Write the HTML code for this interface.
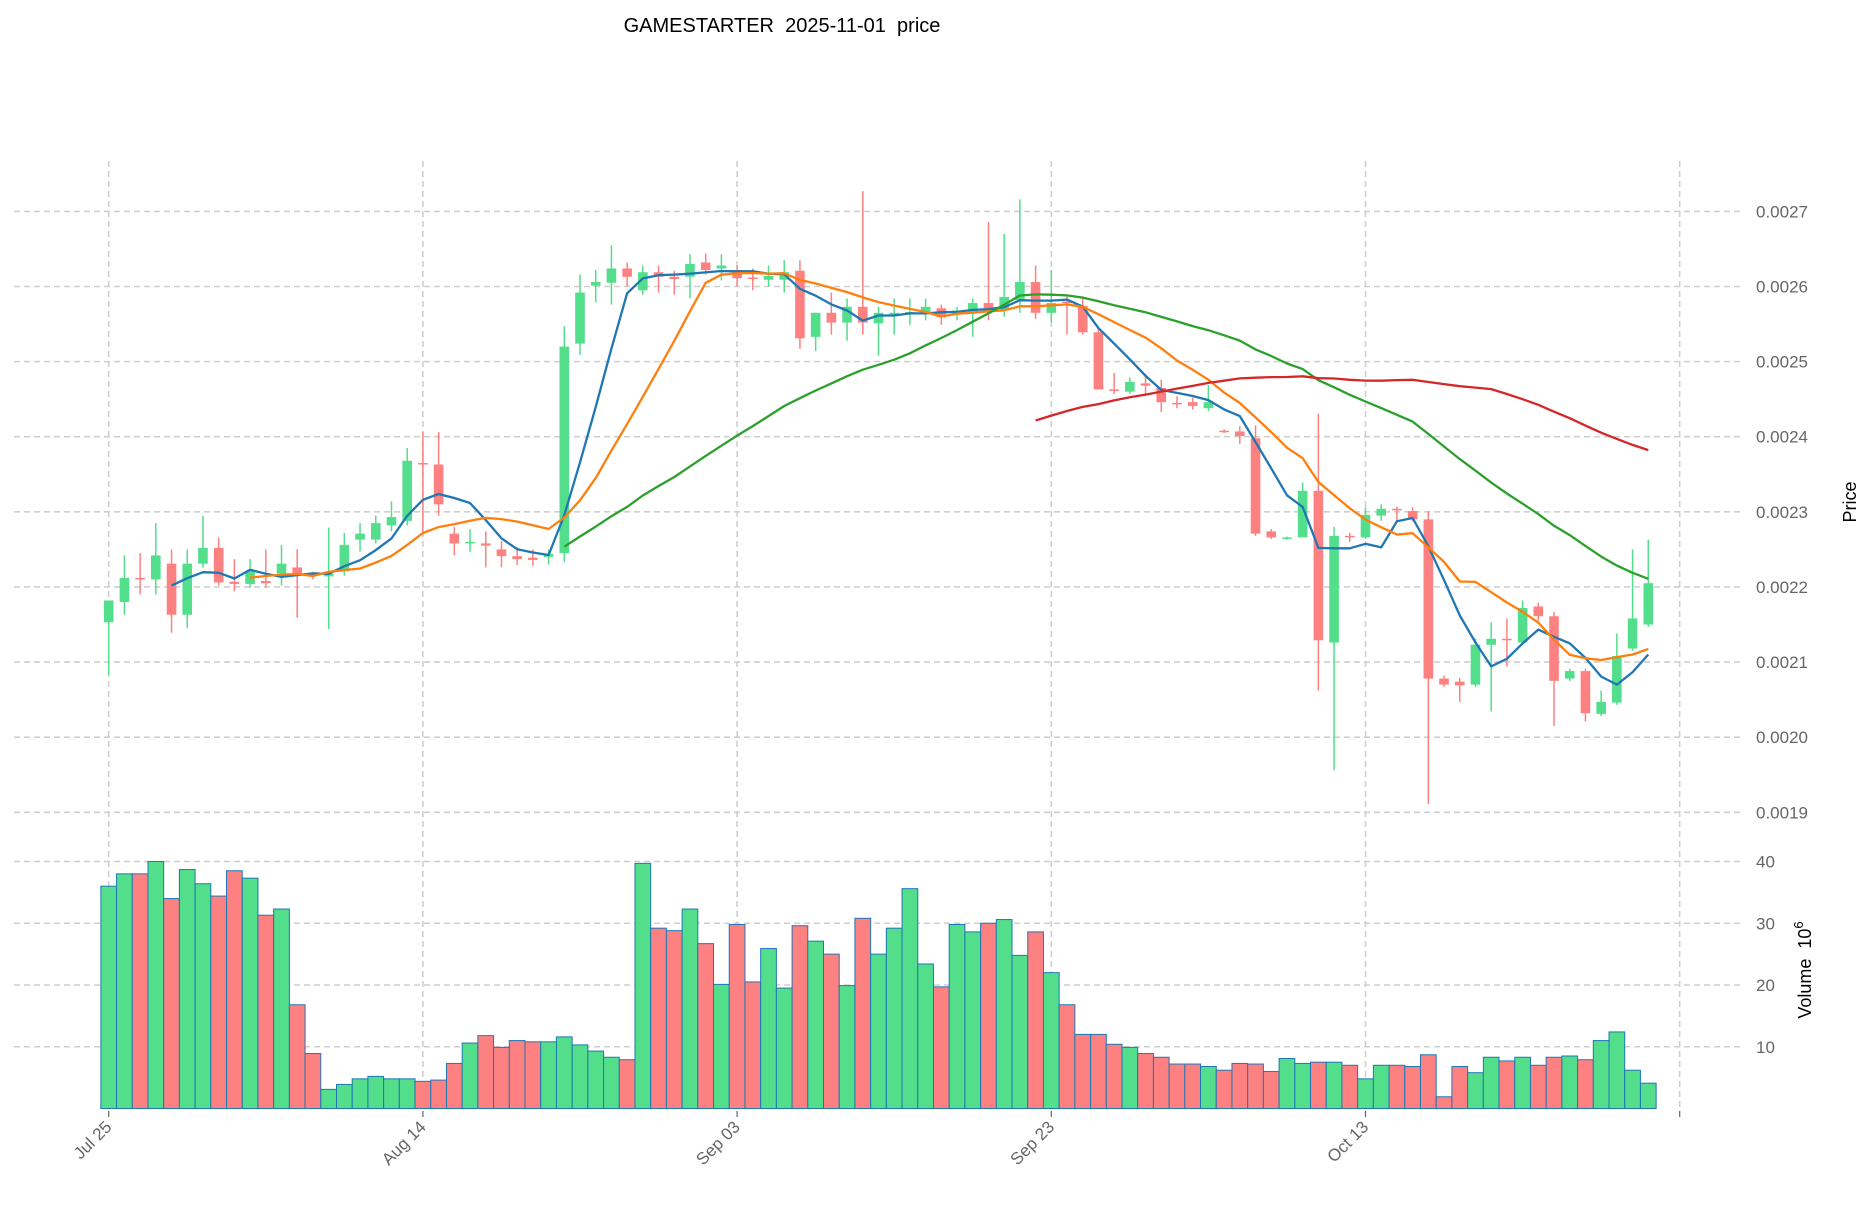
<!DOCTYPE html>
<html><head><meta charset="utf-8"><style>
html,body{margin:0;padding:0;background:#fff;}
svg text{font-family:"Liberation Sans","DejaVu Sans",sans-serif;}
</style></head><body>
<svg id="chart" xmlns="http://www.w3.org/2000/svg" width="1873" height="1202" viewBox="0 0 1873 1202">
<rect x="0" y="0" width="1873" height="1202" fill="#fff"/>
<text x="782" y="32" font-size="20" text-anchor="middle" fill="#000" xml:space="preserve" style="white-space:pre">GAMESTARTER  2025-11-01  price</text>
<g id="grid"></g><g id="vol"></g><g id="candles"></g><g id="mas"></g><g id="axes"></g>
<text transform="translate(1856,502) rotate(-90)" font-size="18" text-anchor="middle" fill="#000">Price</text>
<text transform="translate(1811,970) rotate(-90)" font-size="18" text-anchor="middle" fill="#000" xml:space="preserve" style="white-space:pre">Volume  10<tspan dy="-8" font-size="13">6</tspan></text>
</svg>
<script>
// prices in units of 1e-4
const openP=[21.53,21.80,22.12,22.10,22.31,21.63,22.31,22.52,22.07,22.04,22.08,22.18,22.26,22.17,22.14,22.21,22.63,22.63,22.82,22.88,23.65,23.63,22.71,22.58,22.58,22.50,22.41,22.39,22.40,22.45,25.24,26.01,26.05,26.24,25.95,26.19,26.13,26.13,26.32,26.24,26.22,26.12,26.09,26.09,26.21,25.33,25.65,25.52,25.73,25.51,25.62,25.64,25.63,25.71,25.63,25.66,25.78,25.68,25.82,26.06,25.65,25.80,25.74,25.39,24.63,24.60,24.71,24.65,24.45,24.46,24.38,24.08,24.07,23.98,22.74,22.65,22.66,23.28,21.26,22.68,22.66,22.95,23.04,23.01,22.90,20.78,20.74,20.70,21.23,21.31,21.26,21.74,21.61,20.78,20.88,20.31,20.46,21.18,21.50];
const highP=[21.82,22.42,22.45,22.85,22.50,22.50,22.95,22.66,22.37,22.37,22.50,22.56,22.50,22.20,22.79,22.72,22.85,22.95,23.14,23.85,24.06,24.06,22.80,22.77,22.74,22.61,22.53,22.50,22.50,25.47,26.16,26.22,26.55,26.32,26.28,26.28,26.21,26.43,26.44,26.43,26.28,26.24,26.28,26.35,26.35,25.65,25.92,25.84,27.27,25.73,25.84,25.84,25.84,25.76,25.73,25.84,26.86,26.70,27.16,26.28,26.22,25.87,25.87,25.45,24.85,24.79,24.84,24.76,24.54,24.52,24.69,24.10,24.14,24.15,22.77,22.67,23.39,24.31,22.80,22.72,23.06,23.10,23.07,23.06,23.01,20.82,20.79,21.31,21.53,21.58,21.82,21.79,21.67,20.91,20.91,20.62,21.38,22.50,22.63];
const lowP=[20.83,21.63,21.90,21.90,21.39,21.45,22.26,22.02,21.94,21.99,21.99,22.02,21.59,22.10,21.44,22.15,22.47,22.58,22.74,22.82,22.71,22.95,22.42,22.47,22.26,22.26,22.29,22.28,22.30,22.33,25.09,25.79,25.76,26.00,25.89,25.92,25.89,25.84,26.16,26.08,26.00,25.95,26.00,25.92,25.17,25.14,25.36,25.28,25.36,25.08,25.36,25.49,25.55,25.49,25.55,25.33,25.55,25.60,25.65,25.57,25.52,25.36,25.36,24.63,24.57,24.57,24.57,24.33,24.38,24.36,24.34,24.05,23.90,22.68,22.64,22.63,22.66,20.62,19.56,22.60,22.64,22.88,22.88,22.87,19.11,20.67,20.47,20.67,20.34,20.94,21.23,21.55,20.15,20.75,20.21,20.28,20.43,21.15,21.47];
const closeP=[21.82,22.12,22.10,22.42,21.63,22.31,22.52,22.06,22.04,22.21,22.05,22.31,22.18,22.15,22.18,22.56,22.71,22.85,22.93,23.68,23.63,23.10,22.58,22.60,22.55,22.41,22.37,22.36,22.44,25.20,25.92,26.06,26.24,26.13,26.19,26.13,26.10,26.30,26.22,26.28,26.11,26.10,26.14,26.19,25.31,25.65,25.52,25.73,25.52,25.65,25.65,25.66,25.73,25.59,25.68,25.78,25.71,25.86,26.06,25.65,25.78,25.78,25.39,24.63,24.62,24.73,24.68,24.46,24.43,24.41,24.46,24.06,24.01,22.71,22.66,22.66,23.28,21.29,22.68,22.66,22.96,23.04,23.03,22.90,20.78,20.70,20.69,21.23,21.31,21.29,21.72,21.61,20.75,20.88,20.32,20.47,21.08,21.58,22.05];
// volume in millions
const volumes=[36,38,38,40,34,38.7,36.4,34.4,38.5,37.3,31.3,32.3,16.8,8.9,3.1,3.9,4.8,5.2,4.8,4.8,4.4,4.6,7.3,10.6,11.8,9.9,11,10.8,10.8,11.6,10.3,9.3,8.3,7.9,39.7,29.2,28.8,32.3,26.7,20.1,29.8,20.5,25.9,19.5,29.6,27.1,25,19.9,30.8,25,29.2,35.6,23.4,19.7,29.8,28.6,30,30.6,24.8,28.6,22,16.8,12,12,10.4,9.9,8.9,8.3,7.2,7.2,6.8,6.2,7.3,7.2,6,8.1,7.3,7.5,7.5,7,4.8,7,7,6.8,8.7,1.9,6.8,5.8,8.3,7.7,8.3,7,8.3,8.5,7.9,11,12.4,6.2,4.1];
const priceTicks=[19,20,21,22,23,24,25,26,27];
const priceTickLabels=['0.0019','0.0020','0.0021','0.0022','0.0023','0.0024','0.0025','0.0026','0.0027'];
const volTicks=[10,20,30,40];
const dateTickIdx=[0,20,40,60,80,100];
const dateTickLabels=['Jul 25','Aug 14','Sep 03','Sep 23','Oct 13',''];
const maPeriods=[5,10,30,60];
const maColors=['#1f77b4','#ff7f0e','#2ca02c','#d62728'];

const NS='http://www.w3.org/2000/svg';
const X0=108.7, DX=15.71;
function xS(i){return X0+i*DX;}
function yP(p){return 211.4+(27-p)*75.11;}
function yV(v){return 1108.5-v*6.175;}
function mk(tag,attrs,parent){const e=document.createElementNS(NS,tag);for(const k in attrs)e.setAttribute(k,attrs[k]);parent.appendChild(e);return e;}
const G=document.getElementById('grid'),V=document.getElementById('vol'),C=document.getElementById('candles'),M=document.getElementById('mas'),A=document.getElementById('axes');
const GREEN='#53de8c',RED='#fe8181',GRID='#cfcfcf';

priceTicks.forEach((t,k)=>{
  const y=yP(t);
  const l=mk('line',{x1:14,x2:1744,y1:y,y2:y,stroke:GRID,'stroke-width':1.6,'stroke-dasharray':'6,4'},G);
  
  
  const tx=mk('text',{x:1756,y:y+6,'font-size':17,fill:'#666'},A);
  tx.textContent=priceTickLabels[k];
  
  
});
volTicks.forEach(t=>{
  const y=yV(t);
  const l=mk('line',{x1:14,x2:1744,y1:y,y2:y,stroke:GRID,'stroke-width':1.6,'stroke-dasharray':'6,4'},G);
  
  
  const tx=mk('text',{x:1756,y:y+6,'font-size':17,fill:'#666'},A);
  tx.textContent=String(t);
  
  
});
dateTickIdx.forEach((i,k)=>{
  const x=xS(i);
  const l=mk('line',{x1:x,x2:x,y1:161,y2:1111,stroke:GRID,'stroke-width':1.6,'stroke-dasharray':'6,4'},G);
  
  
  const tk=mk('line',{x1:x,x2:x,y1:1111,y2:1117,stroke:'#666','stroke-width':1.2},A);
  
  
  if(dateTickLabels[k]){
    const tx=mk('text',{transform:`translate(${x+4},${1128}) rotate(-45)`,'font-size':17,fill:'#666','text-anchor':'end'},A);
    tx.textContent=dateTickLabels[k];
    
    
  }
});
volumes.forEach((v,i)=>{
  const up=closeP[i]>=openP[i];
  const r=mk('rect',{x:xS(i)-DX/2,y:yV(v),width:DX,height:yV(0)-yV(v),fill:up?GREEN:RED,stroke:'#1f77b4','stroke-width':1},V);
  
  
});
openP.forEach((o,i)=>{
  const c=closeP[i],up=c>=o,col=up?GREEN:RED,x=xS(i);
  const w=mk('line',{x1:x,x2:x,y1:yP(highP[i]),y2:yP(lowP[i]),stroke:col,'stroke-width':1.5},C);
  
  
  const top=yP(Math.max(o,c)),bot=yP(Math.min(o,c));
  const b=mk('rect',{x:x-4.8,y:top,width:9.6,height:Math.max(1.5,bot-top),fill:col},C);
  
  
});
maPeriods.forEach((n,k)=>{
  const pts=[];
  for(let i=n-1;i<closeP.length;i++){let s=0;for(let j=i-n+1;j<=i;j++)s+=closeP[j];pts.push(xS(i).toFixed(1)+','+yP(s/n).toFixed(1));}
  const pl=mk('polyline',{points:pts.join(' '),fill:'none',stroke:maColors[k],'stroke-width':2.3,'stroke-linejoin':'round'},M);
  
  
});
</script>
</body></html>
